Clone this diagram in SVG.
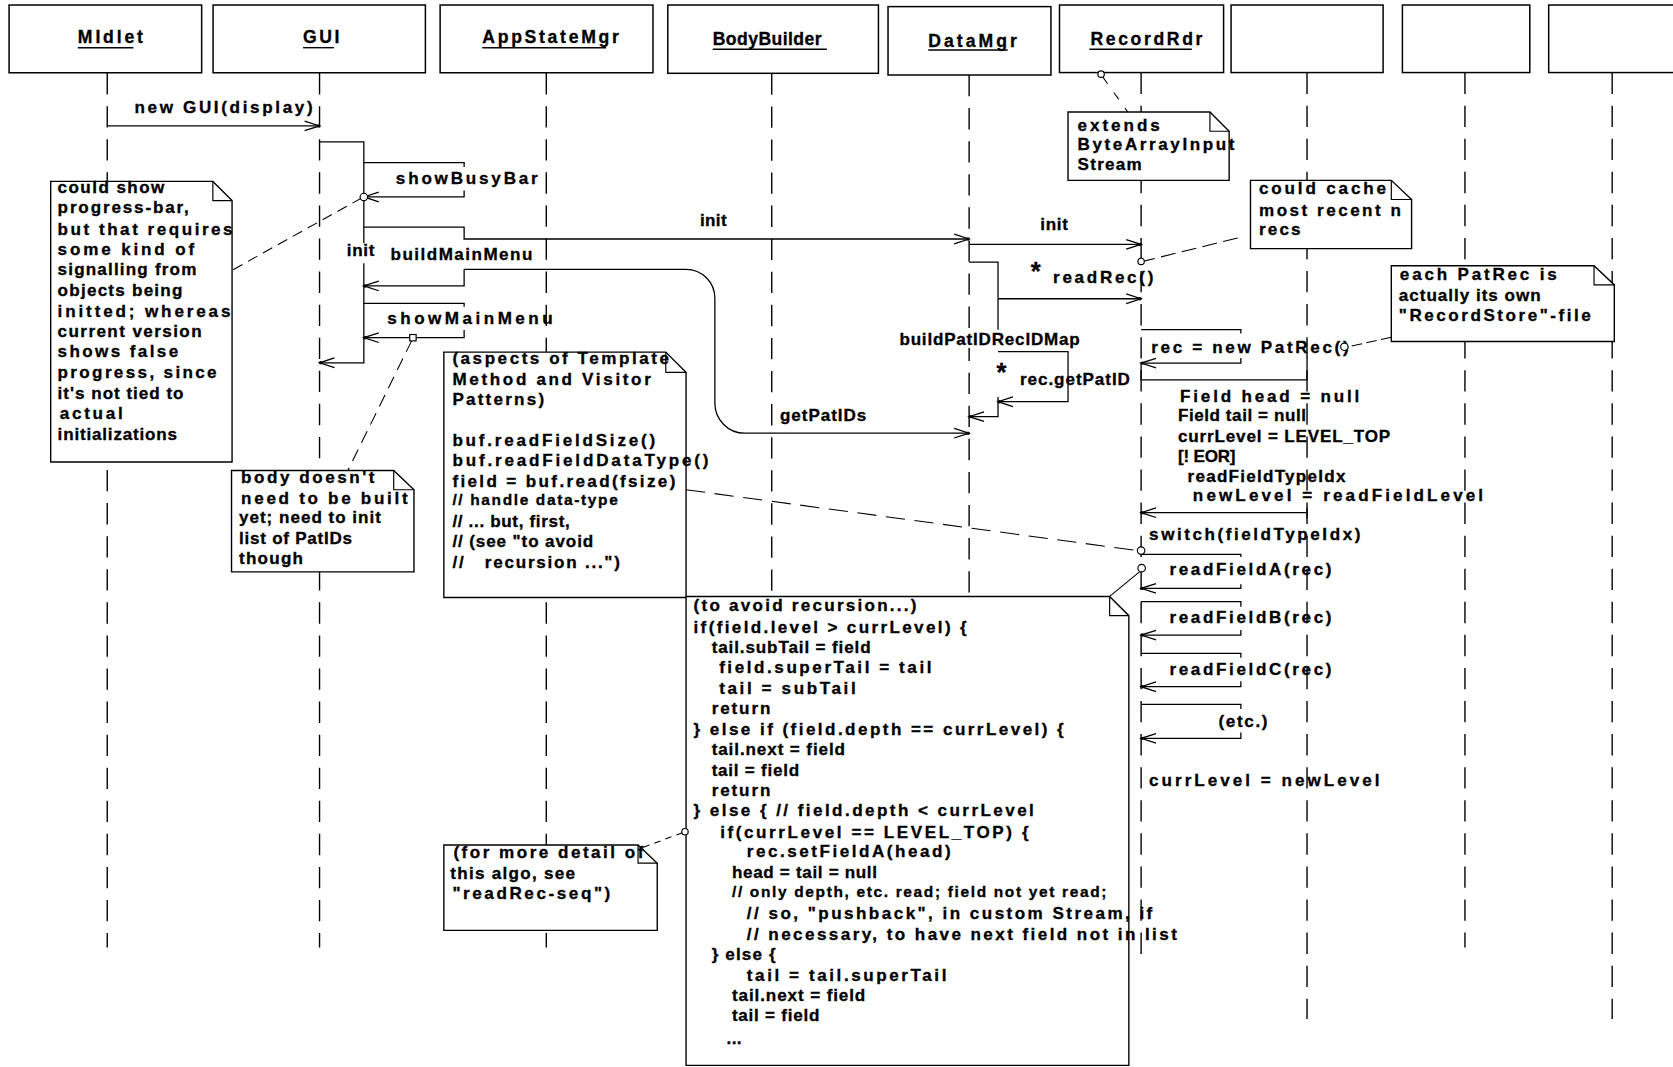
<svg xmlns="http://www.w3.org/2000/svg" width="1673" height="1067" viewBox="0 0 1673 1067">
<defs>
<style>
text{font-family:"Liberation Sans",Arial,Helvetica,sans-serif;font-weight:bold;font-size:16px;fill:#000;stroke:#000;stroke-width:0.3}
.hd{font-size:16.5px}
.sm{font-size:14.5px}
.star{font-size:24px}
.box{fill:#fff;stroke:#000;stroke-width:1.4}
.life{fill:none;stroke:#000;stroke-width:1.3;stroke-dasharray:20 11}
.ul{stroke:#000;stroke-width:1.3}
.note{fill:#fff;stroke:#000;stroke-width:1.3}
.fold{fill:none;stroke:#000;stroke-width:1.1}
.ln{fill:none;stroke:#000;stroke-width:1.2}
.arr{marker-end:url(#ah)}
.dl{fill:none;stroke:#000;stroke-width:1}
.anc{fill:#fff;stroke:#000;stroke-width:1.1}
.bg{fill:#fff}
</style>
<marker id="ah" markerUnits="userSpaceOnUse" viewBox="-16 -6 18 12" markerWidth="18" markerHeight="12" refX="0" refY="0" orient="auto">
<path d="M-14,-4.5 L0,0 L-14,4.5" fill="none" stroke="#000" stroke-width="1.2"/>
<circle cx="-1" cy="0" r="1.6" fill="#000"/>
</marker>
</defs>
<rect width="1673" height="1067" fill="#fff"/>
<g transform="scale(1.06696 1.067)">

<!-- participants -->
<g id="midlet">
<rect class="box" x="8.5" y="4.7" width="180.5" height="63.5"/>
<text class="hd" x="73" y="40.5" textLength="61" lengthAdjust="spacing">MIdlet</text>
<line class="ul" x1="73" y1="44.7" x2="125" y2="44.7"/>
<line class="life" x1="100.5" y1="68.5" x2="100.5" y2="888"/>
</g>
<g id="gui">
<rect class="box" x="199.7" y="4.7" width="199" height="63.5"/>
<text class="hd" x="284" y="40.5" textLength="34" lengthAdjust="spacing">GUI</text>
<line class="ul" x1="284" y1="44.7" x2="313" y2="44.7"/>
<line class="life" x1="299.5" y1="68.5" x2="299.5" y2="888"/>
</g>
<g id="appstatemgr">
<rect class="box" x="412.5" y="4.7" width="199.5" height="63.5"/>
<text class="hd" x="452" y="40.5" textLength="128" lengthAdjust="spacing">AppStateMgr</text>
<line class="ul" x1="452" y1="44.7" x2="568" y2="44.7"/>
<line class="life" x1="512" y1="68.5" x2="512" y2="888"/>
</g>
<g id="bodybuilder">
<rect class="box" x="625.9" y="4.7" width="197.4" height="64"/>
<text class="hd" x="668" y="42" textLength="102" lengthAdjust="spacing">BodyBuilder</text>
<line class="ul" x1="668" y1="46.2" x2="775" y2="46.2"/>
<line class="life" x1="723.3" y1="68.7" x2="723.3" y2="888"/>
</g>
<g id="datamgr">
<rect class="box" x="832.3" y="6.2" width="152.7" height="64.1"/>
<text class="hd" x="870" y="43.7" textLength="83" lengthAdjust="spacing">DataMgr</text>
<line class="ul" x1="870" y1="46.9" x2="944.5" y2="46.9"/>
<line class="life" x1="908.3" y1="70.3" x2="908.3" y2="888"/>
</g>
<g id="recordrdr">
<rect class="box" x="993" y="4.7" width="153.8" height="63.3"/>
<text class="hd" x="1022" y="42" textLength="105" lengthAdjust="spacing">RecordRdr</text>
<line class="ul" x1="1021" y1="46.2" x2="1117" y2="46.2"/>
<line class="life" x1="1069.5" y1="68" x2="1069.5" y2="900"/>
</g>
<g id="obj7">
<rect class="box" x="1153.8" y="4.7" width="142.5" height="63.3"/>
<line class="life" x1="1225" y1="68" x2="1225" y2="955"/>
</g>
<g id="obj8">
<rect class="box" x="1314.4" y="4.7" width="119.4" height="63.3"/>
<line class="life" x1="1373" y1="68" x2="1373" y2="888"/>
</g>
<g id="obj9">
<rect class="box" x="1451.5" y="4.7" width="140" height="63.3"/>
<line class="life" x1="1511" y1="68" x2="1511" y2="955"/>
</g>

<!-- notes -->
<g id="note-progress">
<path class="note" d="M47.5 170 H199.5 L217.5 188 V433 H47.5 Z"/>
<path class="fold" d="M199.5 170 V188 H217.5"/>
<text x="54" y="181" textLength="100" lengthAdjust="spacing">could show</text>
<text x="54" y="200" textLength="123" lengthAdjust="spacing">progress-bar,</text>
<text x="54" y="220" textLength="164" lengthAdjust="spacing">but that requires</text>
<text x="54" y="239" textLength="128" lengthAdjust="spacing">some kind of</text>
<text x="54" y="258" textLength="130" lengthAdjust="spacing">signalling from</text>
<text x="54" y="277" textLength="117" lengthAdjust="spacing">objects being</text>
<text x="54" y="297" textLength="162" lengthAdjust="spacing">initted; whereas</text>
<text x="54" y="316" textLength="135" lengthAdjust="spacing">current version</text>
<text x="54" y="335" textLength="113" lengthAdjust="spacing">shows false</text>
<text x="54" y="354" textLength="149" lengthAdjust="spacing">progress, since</text>
<text x="54" y="374" textLength="118" lengthAdjust="spacing">it's not tied to</text>
<text x="56" y="393" textLength="59" lengthAdjust="spacing">actual</text>
<text x="54" y="412" textLength="112" lengthAdjust="spacing">initializations</text>
</g>
<g id="note-body">
<path class="note" d="M217 441 H369 L388 459 V536 H217 Z"/>
<path class="fold" d="M369 441 V459 H388"/>
<text x="226" y="453" textLength="125" lengthAdjust="spacing">body doesn't</text>
<text x="226" y="472" textLength="156" lengthAdjust="spacing">need to be built</text>
<text x="224" y="490" textLength="133" lengthAdjust="spacing">yet; need to init</text>
<text x="224" y="510" textLength="106" lengthAdjust="spacing">list of PatIDs</text>
<text x="224" y="529" textLength="60" lengthAdjust="spacing">though</text>
</g>
<g id="note-aspects">
<path class="note" d="M416 330 H624 L643 349 V560 H416 Z"/>
<path class="fold" d="M624 330 V349 H643"/>
<text x="424" y="341" textLength="203" lengthAdjust="spacing">(aspects of Template</text>
<text x="424" y="361" textLength="186" lengthAdjust="spacing">Method and Visitor</text>
<text x="424" y="380" textLength="86" lengthAdjust="spacing">Patterns)</text>
<text x="424" y="418" textLength="190" lengthAdjust="spacing">buf.readFieldSize()</text>
<text x="424" y="437" textLength="240" lengthAdjust="spacing">buf.readFieldDataType()</text>
<text x="424" y="456" textLength="209" lengthAdjust="spacing">field = buf.read(fsize)</text>
<text class="sm" x="424" y="473" textLength="155" lengthAdjust="spacing">// handle data-type</text>
<text x="424" y="494" textLength="110" lengthAdjust="spacing">// ... but, first,</text>
<text x="424" y="513" textLength="132" lengthAdjust="spacing">// (see "to avoid</text>
<text x="424" y="532" textLength="157" lengthAdjust="spacing" xml:space="preserve">//   recursion ...")</text>
</g>
<g id="note-algo">
<path class="note" d="M643 559 H1040 L1058 577 V998.5 H643 Z"/>
<path class="fold" d="M1040 559 V577 H1058"/>
<text x="650" y="573" textLength="209" lengthAdjust="spacing">(to avoid recursion...)</text>
<text x="650" y="593" textLength="256" lengthAdjust="spacing">if(field.level &gt; currLevel) {</text>
<text x="667" y="612" textLength="149" lengthAdjust="spacing">tail.subTail = field</text>
<text x="674" y="631" textLength="199" lengthAdjust="spacing">field.superTail = tail</text>
<text x="674" y="650" textLength="128" lengthAdjust="spacing">tail = subTail</text>
<text x="667" y="669" textLength="55" lengthAdjust="spacing">return</text>
<text x="650" y="689" textLength="347" lengthAdjust="spacing">} else if (field.depth == currLevel) {</text>
<text x="667" y="708" textLength="125" lengthAdjust="spacing">tail.next = field</text>
<text x="667" y="727" textLength="82" lengthAdjust="spacing">tail = field</text>
<text x="667" y="746" textLength="55" lengthAdjust="spacing">return</text>
<text x="650" y="765" textLength="319" lengthAdjust="spacing">} else { // field.depth &lt; currLevel</text>
<text x="675" y="785" textLength="289" lengthAdjust="spacing">if(currLevel == LEVEL_TOP) {</text>
<text x="700" y="803" textLength="191" lengthAdjust="spacing">rec.setFieldA(head)</text>
<text x="686" y="823" textLength="136" lengthAdjust="spacing">head = tail = null</text>
<text class="sm" x="686" y="841" textLength="351" lengthAdjust="spacing">// only depth, etc. read; field not yet read;</text>
<text x="700" y="861" textLength="380" lengthAdjust="spacing">// so, "pushback", in custom Stream, if</text>
<text x="700" y="881" textLength="403" lengthAdjust="spacing">// necessary, to have next field not in list</text>
<text x="667" y="900" textLength="60" lengthAdjust="spacing">} else {</text>
<text x="700" y="919" textLength="187" lengthAdjust="spacing">tail = tail.superTail</text>
<text x="686" y="938" textLength="125" lengthAdjust="spacing">tail.next = field</text>
<text x="686" y="957" textLength="82" lengthAdjust="spacing">tail = field</text>
<text x="681" y="978" textLength="14" lengthAdjust="spacing">...</text>
</g>
<g id="note-detail">
<path class="note" d="M416 792 H598 L616 809 V872 H416 Z"/>
<path class="fold" d="M598 792 V809 H616"/>
<text x="425" y="804" textLength="178" lengthAdjust="spacing">(for more detail of</text>
<text x="422" y="824" textLength="117" lengthAdjust="spacing">this algo, see</text>
<text x="424" y="843" textLength="148" lengthAdjust="spacing">"readRec-seq")</text>
</g>
<g id="note-extends">
<path class="note" d="M1001 105 H1134 L1152 123 V169 H1001 Z"/>
<path class="fold" d="M1134 105 V123 H1152"/>
<text x="1010" y="123" textLength="77" lengthAdjust="spacing">extends</text>
<text x="1010" y="141" textLength="147" lengthAdjust="spacing">ByteArrayInput</text>
<text x="1010" y="159" textLength="60" lengthAdjust="spacing">Stream</text>
</g>
<g id="note-cache">
<path class="note" d="M1172 169 H1304 L1323 187 V233 H1172 Z"/>
<path class="fold" d="M1304 169 V187 H1323"/>
<text x="1180" y="182" textLength="119" lengthAdjust="spacing">could cache</text>
<text x="1180" y="202" textLength="133" lengthAdjust="spacing">most recent n</text>
<text x="1180" y="220" textLength="39" lengthAdjust="spacing">recs</text>
</g>
<g id="note-patrec">
<path class="note" d="M1304 249 H1494 L1513 267 V320 H1304 Z"/>
<path class="fold" d="M1494 249 V267 H1513"/>
<text x="1312" y="262" textLength="147" lengthAdjust="spacing">each PatRec is</text>
<text x="1311" y="282" textLength="133" lengthAdjust="spacing">actually its own</text>
<text x="1311" y="301" textLength="180" lengthAdjust="spacing">"RecordStore"-file</text>
</g>

<!-- connectors -->
<g id="connectors">
<line class="ln arr" x1="100.5" y1="118" x2="299.5" y2="118"/>
<text x="126" y="106" textLength="167" lengthAdjust="spacing">new GUI(display)</text>

<polyline class="ln" points="299.5,133 341,133 341,228"/>
<polyline class="ln arr" points="341,246.8 341,340 299.5,340"/>
<text x="325" y="240" textLength="26" lengthAdjust="spacing">init</text>

<polyline class="ln" points="341,152.5 435,152.5 435,156.5"/>
<polyline class="ln arr" points="435,178.5 435,184.6 341,184.6"/>
<text x="371" y="172" textLength="133" lengthAdjust="spacing">showBusyBar</text>

<polyline class="ln arr" points="341,212.8 435,212.8 435,224 908.3,224"/>
<text x="656" y="212" textLength="25" lengthAdjust="spacing">init</text>
<polyline class="ln arr" points="435,252.4 435,268 341,268"/>
<text x="366" y="244" textLength="133" lengthAdjust="spacing">buildMainMenu</text>
<path class="ln arr" d="M435,252.4 H643 A27,27 0 0 1 670,279.4 V378 A28,28 0 0 0 698,406 H908.3"/>
<text x="731" y="395" textLength="81" lengthAdjust="spacing">getPatIDs</text>

<polyline class="ln" points="341,284.3 435,284.3 435,287.5"/>
<polyline class="ln arr" points="435,309.3 435,316.5 341,316.5"/>
<text x="363" y="304" textLength="155" lengthAdjust="spacing">showMainMenu</text>

<line class="ln arr" x1="908.3" y1="229" x2="1069.5" y2="229"/>
<text x="975" y="216" textLength="26" lengthAdjust="spacing">init</text>

<polyline class="ln" points="908.3,245.6 935.4,245.6 935.4,309"/>
<line class="ln arr" x1="935.4" y1="280" x2="1069.5" y2="280"/>
<text class="star" x="966" y="262">*</text>
<text x="987" y="265" textLength="94" lengthAdjust="spacing">readRec()</text>

<rect class="bg" x="841" y="311" width="173" height="15"/>
<text x="843" y="323" textLength="169" lengthAdjust="spacing">buildPatIDRecIDMap</text>
<polyline class="ln arr" points="935.4,329.6 1001,329.6 1001,376.5 935.4,376.5"/>
<polyline class="ln arr" points="935.4,372 935.4,390.5 908.3,390.5"/>
<text class="star" x="934" y="357">*</text>
<text x="956" y="361" textLength="103" lengthAdjust="spacing">rec.getPatID</text>

<polyline class="ln" points="1069.5,309 1163,309 1163,312.5"/>
<polyline class="ln arr" points="1163,335.6 1163,340.3 1069.5,340.3"/>
<text x="1079" y="331" textLength="185" lengthAdjust="spacing">rec = new PatRec()</text>
<polyline class="ln" points="1069.5,340.3 1069.5,356 1225,356 1225,335.6"/>

<text x="1106" y="377" textLength="168" lengthAdjust="spacing">Field head = null</text>
<text x="1104" y="395" textLength="120" lengthAdjust="spacing">Field tail = null</text>
<text x="1104" y="414" textLength="199" lengthAdjust="spacing">currLevel = LEVEL_TOP</text>
<text x="1104" y="433" textLength="54" lengthAdjust="spacing">[! EOR]</text>
<text x="1113" y="452" textLength="148" lengthAdjust="spacing">readFieldTypeIdx</text>
<text x="1118" y="470" textLength="272" lengthAdjust="spacing">newLevel = readFieldLevel</text>
<line class="ln arr" x1="1225" y1="480.5" x2="1069.5" y2="480.5"/>
<line class="ln" x1="1225" y1="476" x2="1225" y2="486"/>

<text x="1077" y="506" textLength="198" lengthAdjust="spacing">switch(fieldTypeIdx)</text>
<polyline class="ln" points="1069.5,519.5 1163,519.5 1163,522"/>
<polyline class="ln arr" points="1163,547.5 1163,551.4 1069.5,551.4"/>
<text x="1096" y="539" textLength="152" lengthAdjust="spacing">readFieldA(rec)</text>
<polyline class="ln" points="1069.5,563.9 1163,563.9 1163,568.6"/>
<polyline class="ln arr" points="1163,590.5 1163,595.2 1069.5,595.2"/>
<text x="1096" y="584" textLength="152" lengthAdjust="spacing">readFieldB(rec)</text>
<polyline class="ln" points="1069.5,612.3 1163,612.3 1163,616.5"/>
<polyline class="ln arr" points="1163,638.5 1163,643.6 1069.5,643.6"/>
<text x="1096" y="633" textLength="152" lengthAdjust="spacing">readFieldC(rec)</text>
<polyline class="ln" points="1069.5,660.1 1163,660.1 1163,664.5"/>
<polyline class="ln arr" points="1163,686.5 1163,692 1069.5,692"/>
<text x="1142" y="681" textLength="46" lengthAdjust="spacing">(etc.)</text>
<text x="1077" y="737" textLength="216" lengthAdjust="spacing">currLevel = newLevel</text>

<!-- note links -->
<line class="dl" x1="339" y1="185.5" x2="218" y2="253" stroke-dasharray="10 6"/>
<line class="dl" x1="386" y1="319" x2="326" y2="441" stroke-dasharray="12 7"/>
<line class="dl" x1="643" y1="459" x2="1066" y2="516" stroke-dasharray="18 9"/>
<line class="dl" x1="603" y1="794" x2="639.5" y2="780.5" stroke-dasharray="6 5"/>
<line class="dl" x1="1033.5" y1="72" x2="1057" y2="105" stroke-dasharray="8 10"/>
<line class="dl" x1="1160" y1="223" x2="1073" y2="244.5" stroke-dasharray="14 6"/>
<line class="dl" x1="1304" y1="316" x2="1263.5" y2="325" stroke-dasharray="10 4"/>
<line class="dl" x1="1068" y1="536" x2="1040" y2="559"/>
<circle class="anc" cx="341" cy="184.6" r="3.5"/>
<rect class="anc" x="384" y="313.5" width="6" height="6"/>
<circle class="anc" cx="1032" cy="69.5" r="3"/>
<circle class="anc" cx="1069.5" cy="245" r="3"/>
<circle class="anc" cx="1069.5" cy="516" r="3.5"/>
<circle class="anc" cx="1070" cy="532.5" r="3.5"/>
<circle class="anc" cx="1260" cy="325" r="3.5"/>
<circle class="anc" cx="642" cy="779.5" r="3"/>
</g>
</g>
</svg>
